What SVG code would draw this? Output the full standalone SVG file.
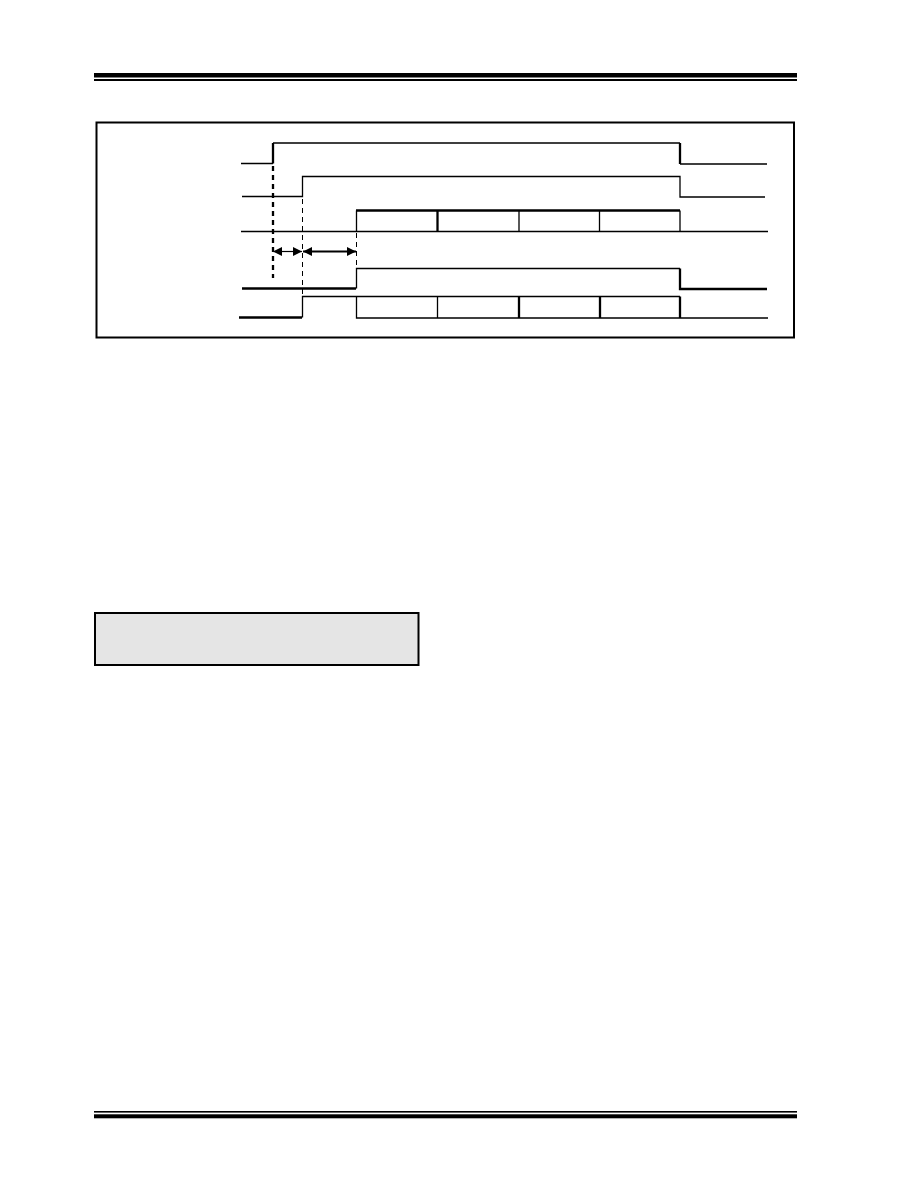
<svg xmlns="http://www.w3.org/2000/svg" width="918" height="1188" viewBox="0 0 918 1188">
<style>
.s{fill:none;stroke:#000;stroke-width:1.3}
.t{fill:none;stroke:#000;stroke-width:2.3}
.d1{fill:none;stroke:#000;stroke-width:2.3;stroke-dasharray:5,4}
.d2{fill:none;stroke:#000;stroke-width:1;stroke-dasharray:5,4}
</style>
<defs>
<marker id="ah" viewBox="0 0 10 10" refX="10" refY="5" markerWidth="10" markerHeight="9" markerUnits="userSpaceOnUse" orient="auto-start-reverse">
<path d="M0,0 L10,5 L0,10 Z" fill="#000"/>
</marker>
</defs>
<rect width="918" height="1188" fill="#fff"/>
<g id="header">
<rect x="94" y="73" width="703" height="4.5" fill="#000"/>
<rect x="94" y="79" width="703" height="2" fill="#000"/>
</g>
<g id="footer">
<rect x="94" y="1111" width="703" height="1.6" fill="#000"/>
<rect x="94" y="1114.3" width="703" height="4" fill="#000"/>
</g>
<g id="frame">
<rect x="96.5" y="122.5" width="697.5" height="215" fill="none" stroke="#000" stroke-width="2"/>
</g>
<g id="sig1">
<path class="s" d="M241,163.5 H273 M273,143 H680 M680,164 H767"/>
<path class="t" d="M273,163.5 V143 M680,143 V164"/>
</g>
<g id="sig2">
<path class="s" d="M242,196.5 H302.5 V176.5 H680 V197 H765"/>
</g>
<g id="sig3">
<path class="s" d="M241,231.5 H768"/>
<path class="t" d="M356,210.5 H680"/>
<path class="s" d="M356.5,210.5 V231.5 M519,210.5 V231.5 M599.5,210.5 V231.5 M680,210.5 V231.5"/>
<path class="t" d="M437.5,210.5 V231.5"/>
</g>
<g id="sig4">
<path class="t" d="M242,288.5 H356"/>
<path class="s" d="M356.5,288.5 V268.5 H680"/>
<path class="t" d="M680,268.5 V289 H767"/>
</g>
<g id="sig5">
<path class="t" d="M239,317.5 H302"/>
<path class="s" d="M302.5,317.5 V296.5 H680 M356.5,296.5 V318 H768 M437.5,296.5 V318"/>
<path class="t" d="M519,296.5 V318 M600,296.5 V318 M680,296.5 V318"/>
</g>
<g id="connectors">
<path class="d1" d="M273,166 V278"/>
<path class="d2" d="M302.5,199 V296"/>
<path class="d2" d="M356.5,233 V268"/>
<path d="M273,251.5 H302" fill="none" stroke="#000" stroke-width="1.2" marker-start="url(#ah)" marker-end="url(#ah)"/>
<path d="M303,251.5 H356" fill="none" stroke="#000" stroke-width="2" marker-start="url(#ah)" marker-end="url(#ah)"/>
</g>
<g id="note">
<rect x="95" y="613" width="323.5" height="52" fill="#e5e5e5" stroke="#000" stroke-width="2"/>
</g>
</svg>
